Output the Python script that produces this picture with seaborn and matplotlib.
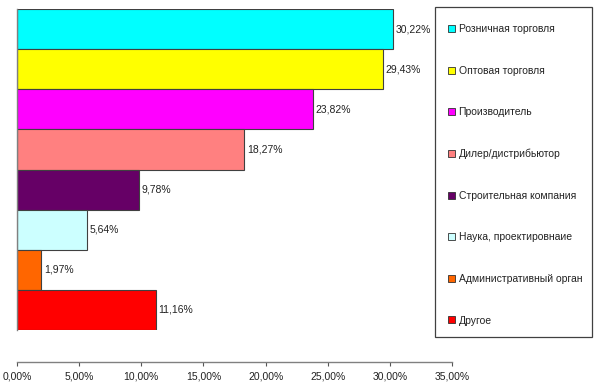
import matplotlib
matplotlib.use("Agg")
import matplotlib.pyplot as plt
from matplotlib.patches import Rectangle, Patch
import seaborn as sns
import pandas as pd

categories = ["Розничная торговля", "Оптовая торговля", "Производитель",
              "Дилер/дистрибьютор", "Строительная компания",
              "Наука, проектировнаие", "Административный орган", "Другое"]
values = [30.22, 29.43, 23.82, 18.27, 9.78, 5.64, 1.97, 11.16]
colors = ["#00FFFF", "#FFFF00", "#FF00FF", "#FF8080", "#660066",
          "#CCFFFF", "#FF6600", "#FF0000"]
xticks = [0, 5, 10, 15, 20, 25, 30, 35]

sns.set_style("white")
plt.rcParams["font.family"] = ["Liberation Sans", "DejaVu Sans"]

df = pd.DataFrame({"cat": categories, "val": values})

fig = plt.figure(figsize=(6, 3.87), dpi=100)
W, H = 600, 387
ax = fig.add_axes([17 / W, 1 - 330 / H, (452 - 17) / W, (330 - 9) / H])

sns.barplot(data=df, x="val", y="cat", hue="cat", palette=colors,
            order=categories, hue_order=categories, width=1.0,
            saturation=1, edgecolor="#404040", linewidth=0.8,
            legend=False, ax=ax, orient="h")

ax.set_xlim(0, 35)
ax.set_ylim(len(categories) - 0.5, -0.5)
ax.set_xticks(xticks, [f"{t:.2f}".replace(".", ",") + "%" for t in xticks])
ax.set_yticks([])
ax.set_xlabel("")
ax.set_ylabel("")

for s in ["top", "right"]:
    ax.spines[s].set_visible(False)
ax.spines["left"].set_color("#808080")
ax.spines["left"].set_linewidth(1.0)
ax.spines["bottom"].set_color("#808080")
ax.spines["bottom"].set_linewidth(1.0)
ax.spines["bottom"].set_position(("outward", 23))
ax.tick_params(axis="x", direction="out", length=3, width=0.8,
               color="#555555", pad=4, bottom=True, labelsize=7.5,
               labelcolor="#222222")

for cont in ax.containers:
    labels = [f"{b.get_width():.2f}".replace(".", ",") + "%" for b in cont]
    ax.bar_label(cont, labels=labels, padding=2, fontsize=7.5,
                 color="#222222")

# legend box
box = Rectangle((435 / W, 1 - 337 / H), (592 - 435) / W, (337 - 7) / H,
                transform=fig.transFigure, fill=False, edgecolor="#404040",
                linewidth=0.9)
fig.patches.append(box)

handles = [Patch(facecolor=c, edgecolor="#303030", linewidth=0.6)
           for c in colors]
leg = fig.legend(handles, categories, loc="upper left",
                 bbox_to_anchor=(444 / W, 1 - 20 / H), frameon=False,
                 fontsize=7.5, handlelength=0.65, handleheight=0.65,
                 handletextpad=0.35, labelspacing=3.03, borderaxespad=0)
for t in leg.get_texts():
    t.set_color("#222222")

fig.savefig("out.png", dpi=100)
